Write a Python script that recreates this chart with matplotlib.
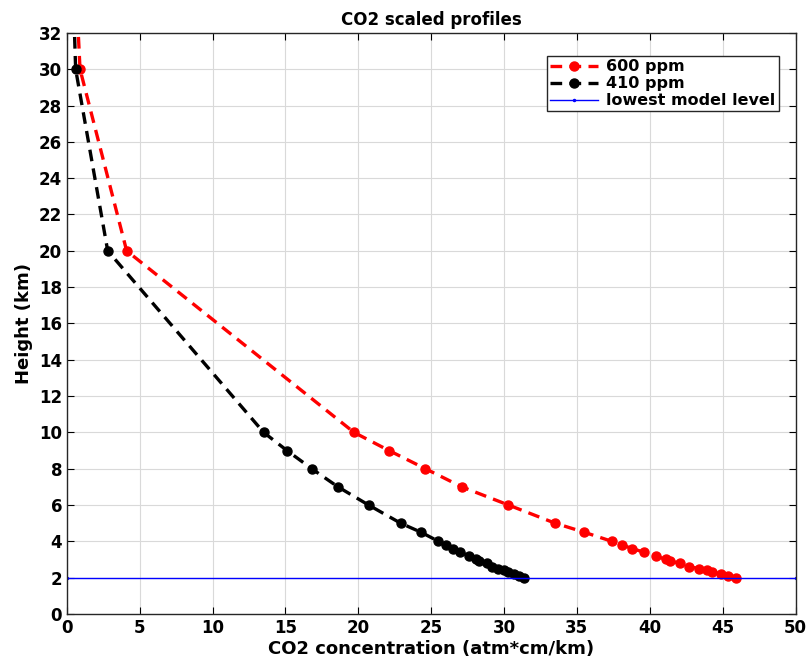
import matplotlib
matplotlib.use('Agg')
import matplotlib.pyplot as plt

# heights (km) of the profile levels; 40 km point lies above the plotted range
height = [40, 30, 20, 10, 9, 8, 7, 6, 5, 4.5, 4, 3.8, 3.6, 3.4, 3.2, 3.0,
          2.9, 2.8, 2.6, 2.5, 2.4, 2.3, 2.2, 2.1, 2.0]

# CO2 concentration (atm*cm/km)
co2_600 = [0.3, 0.9, 4.1, 19.7, 22.1, 24.6, 27.1, 30.3, 33.5, 35.5, 37.4,
           38.1, 38.8, 39.6, 40.4, 41.1, 41.4, 42.1, 42.7, 43.4, 43.9, 44.3,
           44.9, 45.4, 45.9]
co2_410 = [0.2, 0.6, 2.8, 13.5, 15.1, 16.8, 18.6, 20.7, 22.9, 24.3, 25.5,
           26.0, 26.5, 27.0, 27.6, 28.1, 28.3, 28.8, 29.2, 29.6, 30.0, 30.3,
           30.7, 31.0, 31.4]

lowest_level = 2.0

fig = plt.figure(figsize=(8.06, 6.71), dpi=100)
ax = fig.add_axes([0.083, 0.085, 0.904, 0.866])

dash = (0, (3.5, 2.2))
ax.plot(co2_600, height, ls=dash, marker='o', color='red', lw=2.4, ms=6.5,
        label='600 ppm')
ax.plot(co2_410, height, ls=dash, marker='o', color='black', lw=2.4, ms=6.5,
        label='410 ppm')
ax.plot([0, 50], [lowest_level, lowest_level], '.-', color='blue', lw=1,
        ms=3, label='lowest model level')

ax.set_xlim(0, 50)
ax.set_ylim(0, 32)
ax.set_xticks(range(0, 51, 5))
ax.set_yticks(range(0, 33, 2))
ax.grid(True, color='#d9d9d9', lw=0.8)
ax.set_axisbelow(True)
ax.tick_params(direction='in', top=True, right=True, labelsize=12, length=5)
for lab in ax.get_xticklabels() + ax.get_yticklabels():
    lab.set_fontweight('bold')
for s in ax.spines.values():
    s.set_linewidth(1.0)
    s.set_color('#262626')

ax.set_title('CO2 scaled profiles', fontsize=12, fontweight='bold', pad=6)
ax.set_xlabel('CO2 concentration (atm*cm/km)', fontsize=13, fontweight='bold',
              labelpad=2)
ax.set_ylabel('Height (km)', fontsize=13, fontweight='bold', labelpad=4)

leg = ax.legend(loc='upper right', bbox_to_anchor=(0.977, 0.96),
                prop={'weight': 'bold', 'size': 11.5}, fancybox=False,
                framealpha=1, edgecolor='#262626', borderpad=0.2,
                labelspacing=0.12, handlelength=3.0, handletextpad=0.5,
                borderaxespad=0)
leg.get_frame().set_linewidth(1.0)

fig.savefig('out.png', dpi=100)
